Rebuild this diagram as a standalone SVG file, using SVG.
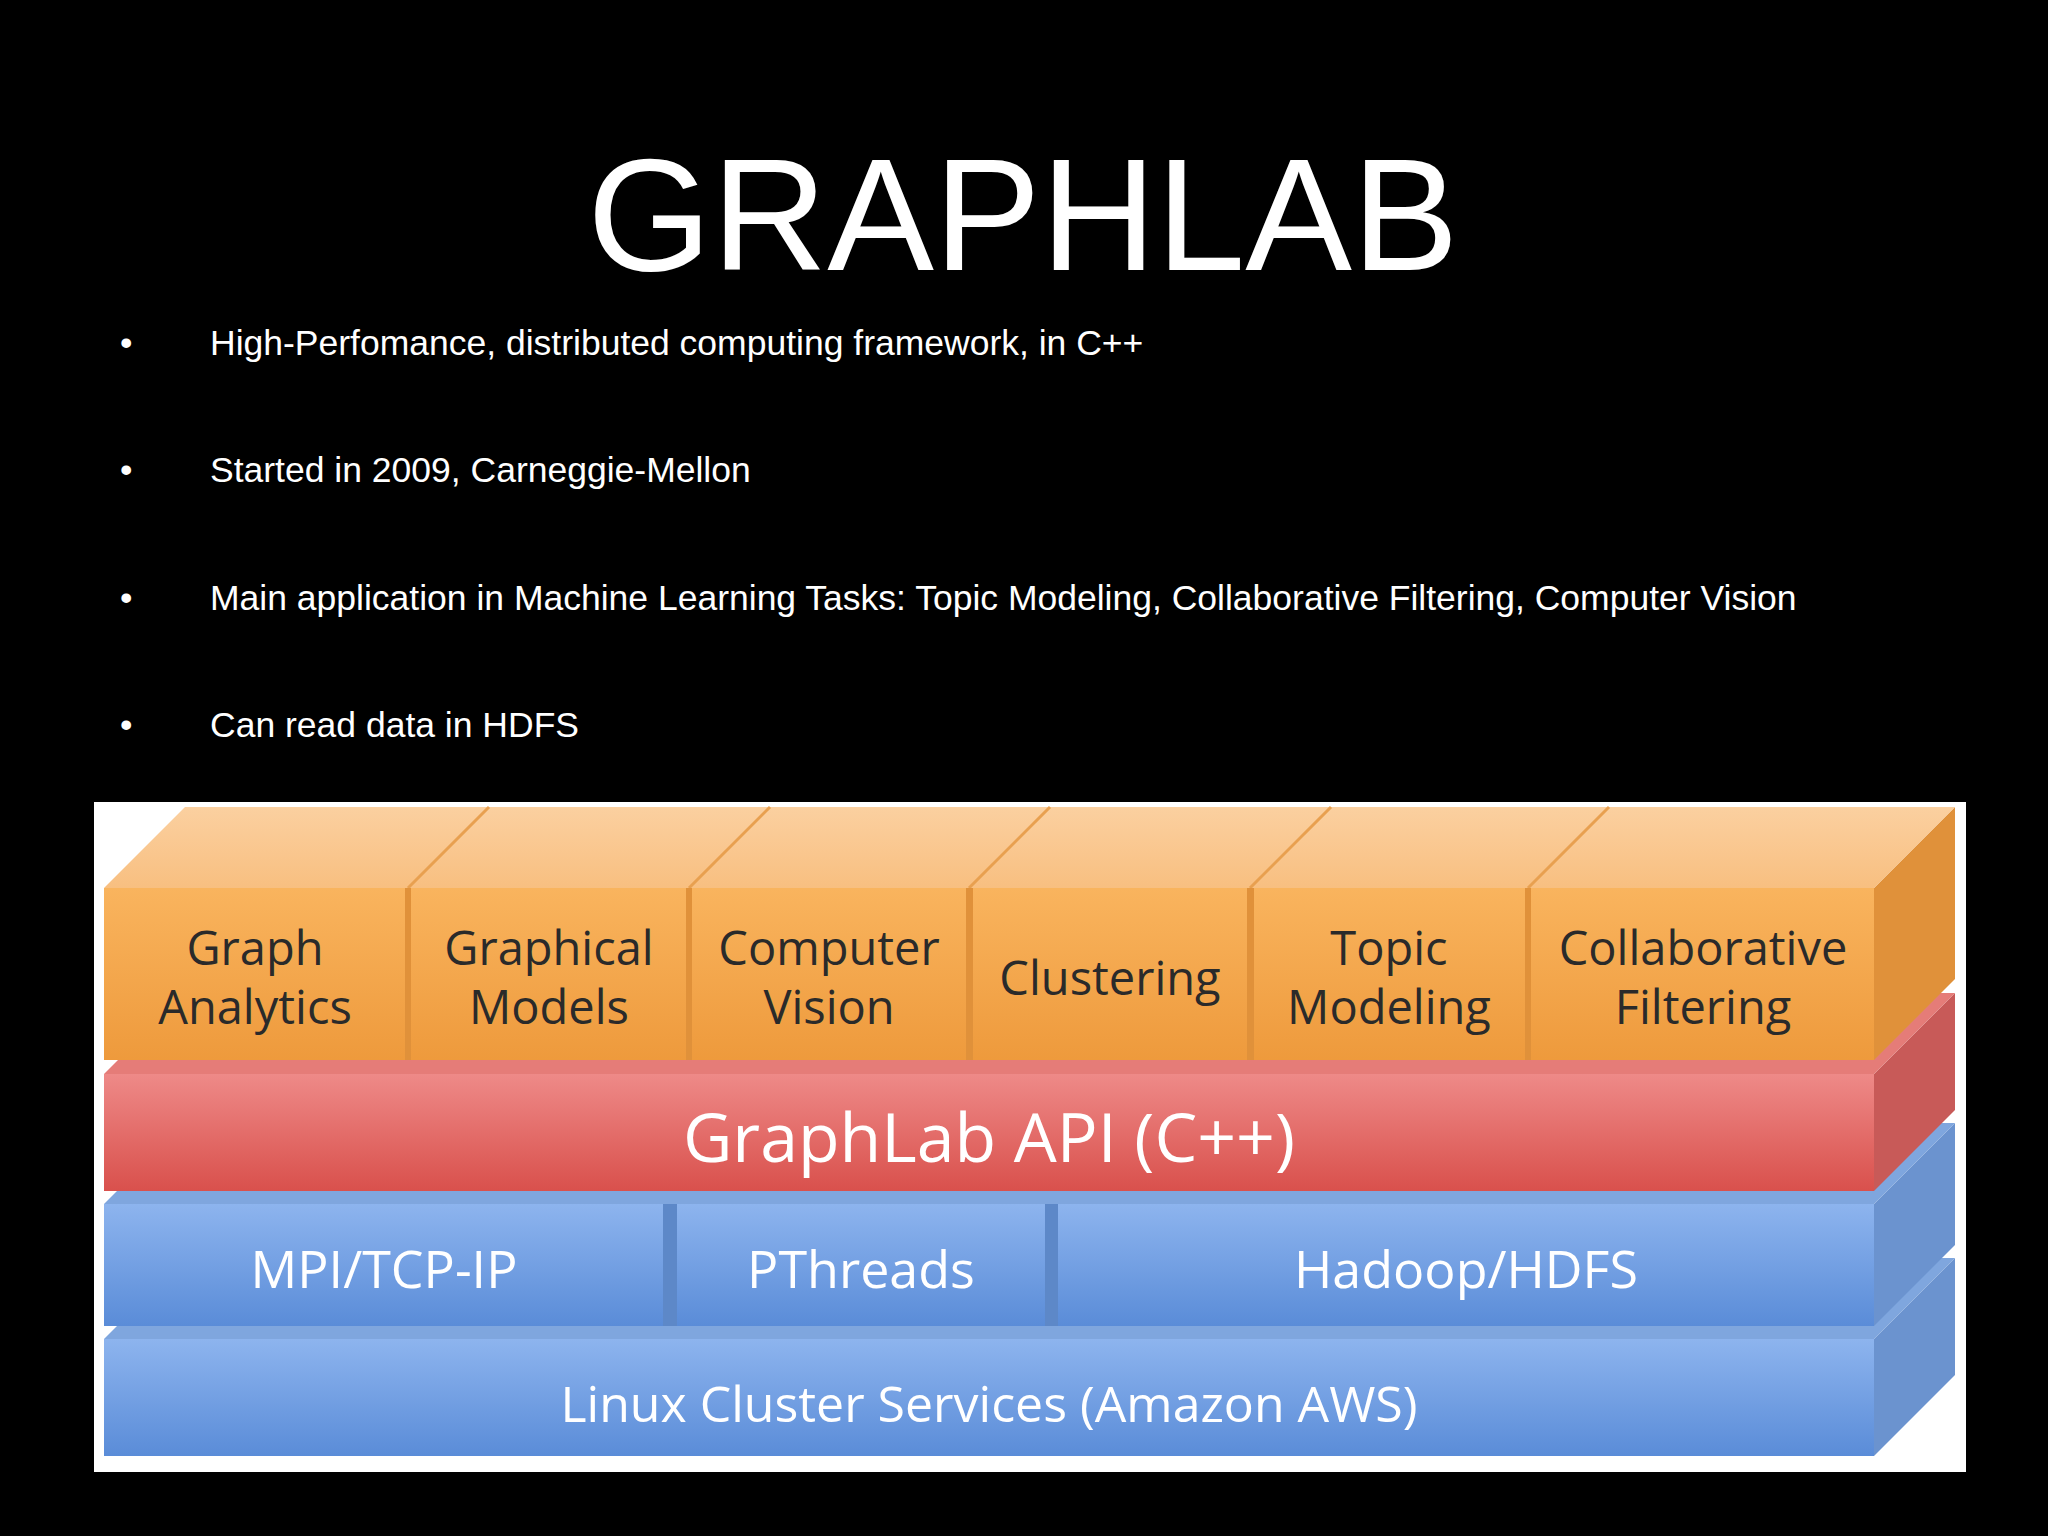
<svg xmlns="http://www.w3.org/2000/svg" width="2048" height="1536" viewBox="0 0 2048 1536">
<defs>
<linearGradient id="gO" x1="0" y1="0" x2="0" y2="1"><stop offset="0" stop-color="#F9B45E"/><stop offset="1" stop-color="#EE9A3C"/></linearGradient>
<linearGradient id="gOt" x1="0" y1="0" x2="0" y2="1"><stop offset="0" stop-color="#FBD0A0"/><stop offset="1" stop-color="#F8BF80"/></linearGradient>
<linearGradient id="gR" x1="0" y1="0" x2="0" y2="1"><stop offset="0" stop-color="#EE8A88"/><stop offset="1" stop-color="#D9504C"/></linearGradient>
<linearGradient id="gB" x1="0" y1="0" x2="0" y2="1"><stop offset="0" stop-color="#8DB4EE"/><stop offset="1" stop-color="#5A8CD8"/></linearGradient>
<style>
.b{font-family:"Liberation Sans",Arial,sans-serif;fill:#fff;font-size:35.5px}
.d{font-family:"Open Sans","Liberation Sans",sans-serif;font-size:47px;text-anchor:middle;fill:#2a2a2a;font-weight:500}
.w{font-family:"Open Sans","Liberation Sans",sans-serif;text-anchor:middle;fill:#fff;font-weight:500}
.edge{stroke:#E8A050;stroke-width:3}
</style>
</defs>
<rect width="2048" height="1536" fill="#000"/>
<text x="1023" y="270" font-family="Liberation Sans,Arial,sans-serif" font-size="160" fill="#fff" text-anchor="middle">GRAPHLAB</text>
<g class="b">
<text x="120" y="355">•</text><text x="210" y="355">High-Perfomance, distributed computing framework, in C++</text>
<text x="120" y="482">•</text><text x="210" y="482">Started in 2009, Carneggie-Mellon</text>
<text x="120" y="610">•</text><text x="210" y="610">Main application in Machine Learning Tasks: Topic Modeling, Collaborative Filtering, Computer Vision</text>
<text x="120" y="737">•</text><text x="210" y="737">Can read data in HDFS</text>
</g>
<rect x="94" y="802" width="1872" height="670" fill="#fff"/>
<g id="linux">
<polygon points="1874,1339 1955,1258 1955,1375 1874,1456" fill="#6B93CF"/>
<polygon points="104,1339 185,1258 1955,1258 1874,1339" fill="#7FA6DE"/>
<rect x="104" y="1339" width="1770" height="117" fill="url(#gB)"/>
<text class="w" x="989" y="1422" font-size="50">Linux Cluster Services (Amazon AWS)</text>
</g>
<g id="mid">
<polygon points="1874,1204 1955,1123 1955,1245 1874,1326" fill="#6B93CF"/>
<polygon points="104,1204 185,1123 1955,1123 1874,1204" fill="#7FA6DE"/>
<rect x="104" y="1204" width="1770" height="122" fill="#5D88C8"/>
<rect x="104" y="1204" width="559" height="122" fill="url(#gB)"/>
<rect x="677" y="1204" width="368" height="122" fill="url(#gB)"/>
<rect x="1058" y="1204" width="816" height="122" fill="url(#gB)"/>
<text class="w" x="384" y="1288" font-size="52">MPI/TCP-IP</text>
<text class="w" x="861" y="1288" font-size="52">PThreads</text>
<text class="w" x="1466" y="1288" font-size="52">Hadoop/HDFS</text>
</g>
<g id="api">
<polygon points="1874,1074 1955,993 1955,1110 1874,1191" fill="#C85A58"/>
<polygon points="104,1074 185,993 1955,993 1874,1074" fill="#E57C78"/>
<rect x="104" y="1074" width="1770" height="117" fill="url(#gR)"/>
<text class="w" x="989" y="1162" font-size="68">GraphLab API (C++)</text>
</g>
<g id="apps">
<polygon points="1874,888 1955,807 1955,979 1874,1060" fill="#E0913A"/>
<polygon points="104,888 185,807 1955,807 1874,888" fill="url(#gOt)"/>
<g class="edge">
<line x1="408" y1="888" x2="489" y2="807"/><line x1="689" y1="888" x2="770" y2="807"/><line x1="969" y1="888" x2="1050" y2="807"/><line x1="1250" y1="888" x2="1331" y2="807"/><line x1="1528" y1="888" x2="1609" y2="807"/>
</g>
<rect x="104" y="888" width="1770" height="172" fill="#E0913A"/>
<rect x="104" y="888" width="301" height="172" fill="url(#gO)"/>
<rect x="411" y="888" width="275" height="172" fill="url(#gO)"/>
<rect x="692" y="888" width="274" height="172" fill="url(#gO)"/>
<rect x="973" y="888" width="274" height="172" fill="url(#gO)"/>
<rect x="1254" y="888" width="271" height="172" fill="url(#gO)"/>
<rect x="1531" y="888" width="343" height="172" fill="url(#gO)"/>
<text class="d" x="255" y="965">Graph</text><text class="d" x="255" y="1024">Analytics</text>
<text class="d" x="549" y="965">Graphical</text><text class="d" x="549" y="1024">Models</text>
<text class="d" x="829" y="965">Computer</text><text class="d" x="829" y="1024">Vision</text>
<text class="d" x="1110" y="995">Clustering</text>
<text class="d" x="1389" y="965">Topic</text><text class="d" x="1389" y="1024">Modeling</text>
<text class="d" x="1703" y="965">Collaborative</text><text class="d" x="1703" y="1024">Filtering</text>
</g>
</svg>
